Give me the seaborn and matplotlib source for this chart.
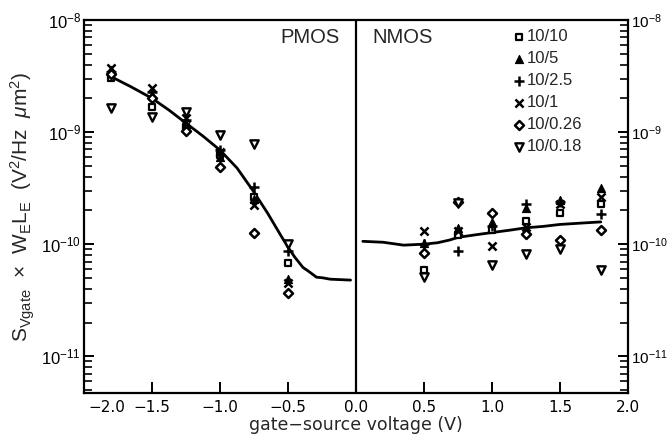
import numpy as np
import pandas as pd
import matplotlib
matplotlib.use("Agg")
import matplotlib.pyplot as plt
import matplotlib.transforms as mtransforms
import seaborn as sns
from matplotlib.ticker import LogLocator, NullFormatter, FixedLocator

sns.set_theme(style="ticks")
plt.rcParams['font.family'] = ['Liberation Sans', 'DejaVu Sans']
plt.rcParams['mathtext.fontset'] = 'custom'
plt.rcParams['mathtext.rm'] = 'Liberation Sans'
plt.rcParams['mathtext.it'] = 'Liberation Sans:italic'
plt.rcParams['mathtext.bf'] = 'Liberation Sans:bold'
plt.rcParams['mathtext.sf'] = 'Liberation Sans'
plt.rcParams['axes.formatter.use_mathtext'] = True

# ---------------- data ----------------
labels = ["10/10", "10/5", "10/2.5", "10/1", "10/0.26", "10/0.18"]
pmos_v = [-1.8, -1.5, -1.25, -1.0, -0.75, -0.5]
nmos_v = [0.5, 0.75, 1.0, 1.25, 1.5, 1.8]

s_10_10 = [3.03e-9, 1.67e-9, 1.11e-9, 6.24e-10, 2.63e-10, 6.75e-11,
           5.9e-11, 1.2e-10, 1.33e-10, 1.6e-10, 1.88e-10, 2.3e-10]
s_10_5 = [3.58e-9, 2.14e-9, 1.18e-9, 6.0e-10, 2.52e-10, 4.87e-11,
          1.03e-10, 1.38e-10, 1.58e-10, 2.1e-10, 2.5e-10, 3.2e-10]
s_10_2p5 = [3.44e-9, 2.28e-9, 1.28e-9, 6.9e-10, 3.23e-10, 8.66e-11,
            1.0e-10, 8.7e-11, 1.46e-10, 2.3e-10, 2.4e-10, 1.85e-10]
s_10_1 = [3.73e-9, 2.47e-9, 1.33e-9, 6.6e-10, 2.23e-10, 4.49e-11,
          1.31e-10, 1.3e-10, 9.6e-11, 1.41e-10, 2.3e-10, 2.64e-10]
s_10_0p26 = [3.3e-9, 2.01e-9, 1.02e-9, 4.87e-10, 1.25e-10, 3.65e-11,
             8.26e-11, 2.39e-10, 1.88e-10, 1.23e-10, 1.09e-10, 1.35e-10]
s_10_0p18 = [1.64e-9, 1.36e-9, 1.51e-9, 9.4e-10, 7.8e-10, 1.0e-10,
             5.1e-11, 2.35e-10, 6.5e-11, 8.1e-11, 9.0e-11, 5.9e-11]

curve_p_v = [-1.8, -1.65, -1.5, -1.375, -1.25, -1.125, -1.0, -0.875, -0.76,
             -0.65, -0.55, -0.5, -0.45, -0.39, -0.35, -0.29, -0.25, -0.19, -0.04]
curve_p_s = [3.12e-9, 2.52e-9, 2.0e-9, 1.57e-9, 1.20e-9, 9.2e-10, 6.9e-10, 4.78e-10, 3.03e-10,
             1.89e-10, 1.18e-10, 9.4e-11, 7.65e-11, 6.2e-11, 5.74e-11, 5.07e-11, 5.02e-11, 4.87e-11, 4.78e-11]

curve_n_v = [0.05, 0.2, 0.35, 0.5, 0.6, 0.69, 0.75, 0.875, 1.0, 1.125, 1.25, 1.375, 1.5, 1.65, 1.8]
curve_n_s = [1.06e-10, 1.04e-10, 9.8e-11, 1.0e-10, 1.03e-10, 1.09e-10, 1.15e-10, 1.21e-10,
             1.27e-10, 1.33e-10, 1.40e-10, 1.44e-10, 1.50e-10, 1.54e-10, 1.58e-10]

series = [s_10_10, s_10_5, s_10_2p5, s_10_1, s_10_0p26, s_10_0p18]
xticks = [-2.0, -1.5, -1.0, -0.5, 0.0, 0.5, 1.0, 1.5, 2.0]
yticks = [1e-11, 1e-10, 1e-9, 1e-8]
yticklabels = [r"$10^{-11}$", r"$10^{-10}$", r"$10^{-9}$", r"$10^{-8}$"]

# ---------------- figure ----------------
fig = plt.figure(figsize=(6.67, 4.37), dpi=100)
ax = fig.add_axes([0.126, 0.1007, 0.8155, 0.8535])

vg = pmos_v + nmos_v
styles = {
    "10/10": dict(marker="s", s=25, facecolor="white", edgecolor="black", linewidth=1.6),
    "10/5": dict(marker="^", s=34, facecolor="black", edgecolor="black", linewidth=0.8),
    "10/2.5": dict(marker="+", s=44, linewidth=1.8),
    "10/1": dict(marker="x", s=34, linewidth=1.8),
    "10/0.26": dict(marker="D", s=21, facecolor="white", edgecolor="black", linewidth=1.8),
    "10/0.18": dict(marker="v", s=36, facecolor="white", edgecolor="black", linewidth=1.7),
}
for lab, vals in zip(labels, series):
    df = pd.DataFrame({"v": vg, "s": vals})
    sns.scatterplot(data=df, x="v", y="s", color="black", label=lab, ax=ax,
                    zorder=3, **styles[lab])

dp = pd.DataFrame({"v": curve_p_v, "s": curve_p_s})
dn = pd.DataFrame({"v": curve_n_v, "s": curve_n_s})
sns.lineplot(data=dp, x="v", y="s", color="black", linewidth=2.0, sort=False,
             estimator=None, ax=ax, legend=False)
sns.lineplot(data=dn, x="v", y="s", color="black", linewidth=2.0, sort=False,
             estimator=None, ax=ax, legend=False)

ax.axvline(0.0, color="black", linewidth=1.6)

ax.set_yscale("log")
ax.set_xlim(-2.0, 2.0)
ax.set_ylim(4.7e-12, 1e-8)
ax.xaxis.set_major_locator(FixedLocator(xticks))
ax.set_xticklabels([f"{t:.1f}".replace("-", "\u2212") for t in xticks],
                   fontfamily="DejaVu Sans")
ax.yaxis.set_major_locator(FixedLocator(yticks))
ax.set_yticklabels(yticklabels)
ax.yaxis.set_minor_locator(LogLocator(base=10, subs=np.arange(2, 10), numticks=20))
ax.yaxis.set_minor_formatter(NullFormatter())

for sp in ax.spines.values():
    sp.set_linewidth(1.6)
    sp.set_color("black")

ax.tick_params(axis="x", which="both", direction="in", length=8, width=1.4,
               top=False, bottom=True, labelsize=11, pad=5, colors="black")
ax.tick_params(axis="y", which="major", direction="in", length=7, width=1.4, pad=2,
               left=True, right=True, labelleft=True, labelright=True, labelsize=12, colors="black")
ax.tick_params(axis="y", which="minor", direction="in", length=6, width=1.2,
               left=True, right=True, colors="black")
for tk in ax.yaxis.get_major_ticks():
    tk.label2.set_fontsize(11)

# first x tick label is shifted right of its tick, as in the reference
first = ax.get_xticklabels()[0]
first.set_horizontalalignment("left")
first.set_transform(first.get_transform() +
                    mtransforms.ScaledTranslation(4 / 100, 0, fig.dpi_scale_trans))

ax.set_xlabel("gate\u2212source voltage (V)", fontsize=12.5, labelpad=1,
              fontfamily="DejaVu Sans")
ax.set_ylabel(r"$\mathrm{S_{Vgate}}$  $\times$  $\mathrm{W_E L_E}$  (V$^2$/Hz  $\mu$m$^2$)",
              fontsize=15, labelpad=3)

ax.text(-0.118, 0.952, "PMOS", transform=ax.get_xaxis_transform(), ha="right", va="center",
        fontsize=14.5)
ax.text(0.118, 0.952, "NMOS", transform=ax.get_xaxis_transform(), ha="left", va="center",
        fontsize=14.5)

leg = ax.legend(loc="upper left", bbox_to_anchor=(0.79, 0.975), frameon=False,
                fontsize=12, handlelength=0.6, handletextpad=0.15, labelspacing=0.42,
                borderpad=0, borderaxespad=0)

fig.savefig("out.png", dpi=100)
